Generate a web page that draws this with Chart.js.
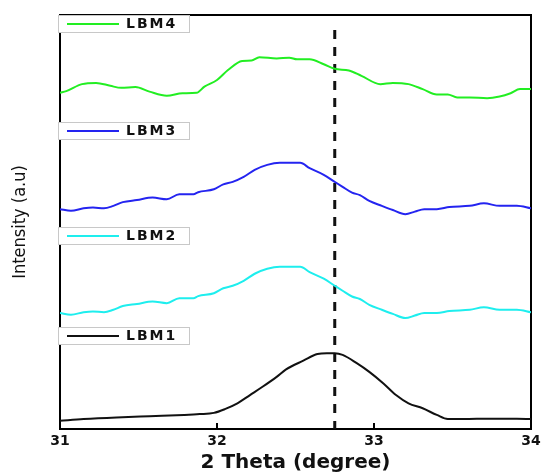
<!DOCTYPE html>
<html>
<head>
<meta charset="utf-8">
<script src="https://cdn.jsdelivr.net/npm/chart.js@4/dist/chart.umd.min.js"></script>
<style>
  html, body { margin: 0; padding: 0; background: #fff; }
  #wrap { width: 543px; height: 476px; position: relative; }
</style>
</head>
<body>
<div id="wrap"><canvas id="xrdChart"></canvas></div>
<script>
// XRD patterns (intensity in arbitrary units, stacked)
const lbm4Theta = [31.00, 31.04, 31.14, 31.23, 31.32, 31.39, 31.48, 31.57, 31.68, 31.78, 31.87, 31.92, 32.00, 32.07, 32.16, 32.22, 32.27, 32.38, 32.46, 32.51, 32.59, 32.68, 32.75, 32.84, 32.92, 33.04, 33.12, 33.22, 33.31, 33.40, 33.47, 33.53, 33.61, 33.72, 33.80, 33.87, 33.93, 34.00];
const lbm4Int   = [81.2, 81.6, 83.3, 83.6, 82.9, 82.4, 82.6, 81.5, 80.5, 81.1, 81.2, 82.7, 84.3, 86.7, 88.9, 89.0, 89.8, 89.5, 89.7, 89.3, 89.3, 88.1, 87.0, 86.6, 85.3, 83.3, 83.6, 83.3, 82.1, 80.8, 80.8, 80.1, 80.1, 79.9, 80.3, 81.1, 82.1, 82.1];

const lbm3Theta = [31.00, 31.07, 31.15, 31.21, 31.28, 31.34, 31.40, 31.49, 31.59, 31.68, 31.76, 31.85, 31.88, 31.98, 32.04, 32.10, 32.17, 32.24, 32.32, 32.40, 32.46, 32.53, 32.59, 32.68, 32.75, 32.80, 32.86, 32.91, 32.97, 33.05, 33.12, 33.20, 33.26, 33.32, 33.40, 33.48, 33.61, 33.70, 33.80, 33.91, 34.00];
const lbm3Int   = [53.1, 52.7, 53.3, 53.5, 53.3, 53.9, 54.8, 55.3, 55.9, 55.5, 56.7, 56.7, 57.2, 57.9, 59.1, 59.7, 60.9, 62.6, 63.8, 64.3, 64.3, 64.3, 63.0, 61.4, 59.7, 58.5, 57.1, 56.5, 55.1, 53.9, 52.9, 51.9, 52.5, 53.1, 53.1, 53.6, 53.9, 54.5, 53.9, 53.9, 53.3];

const lbm2Theta = [31.00, 31.07, 31.15, 31.21, 31.28, 31.34, 31.40, 31.49, 31.59, 31.68, 31.76, 31.85, 31.88, 31.98, 32.04, 32.10, 32.17, 32.24, 32.32, 32.40, 32.46, 32.53, 32.59, 32.68, 32.75, 32.80, 32.86, 32.91, 32.97, 33.05, 33.12, 33.20, 33.26, 33.32, 33.40, 33.48, 33.61, 33.70, 33.80, 33.91, 34.00];
const lbm2Int   = [28.0, 27.6, 28.2, 28.4, 28.2, 28.8, 29.7, 30.2, 30.8, 30.4, 31.6, 31.6, 32.1, 32.8, 34.0, 34.6, 35.8, 37.5, 38.7, 39.2, 39.2, 39.2, 37.9, 36.3, 34.6, 33.4, 32.0, 31.4, 30.0, 28.8, 27.8, 26.8, 27.4, 28.0, 28.0, 28.5, 28.8, 29.4, 28.8, 28.8, 28.2];

const lbm1Theta = [31.00, 31.15, 31.36, 31.57, 31.79, 31.89, 31.98, 32.05, 32.13, 32.21, 32.29, 32.38, 32.44, 32.55, 32.64, 32.70, 32.75, 32.80, 32.89, 32.97, 33.06, 33.14, 33.22, 33.31, 33.40, 33.47, 33.57, 33.74, 33.91, 34.00];
const lbm1Int   = [2.0, 2.4, 2.8, 3.1, 3.4, 3.6, 3.9, 4.8, 6.2, 8.2, 10.2, 12.6, 14.4, 16.5, 18.1, 18.3, 18.3, 17.9, 15.9, 13.8, 11.0, 8.2, 6.2, 5.0, 3.4, 2.4, 2.4, 2.5, 2.5, 2.4];

// reference peak position (dashed marker)
const peakTheta = [32.75, 32.75];
const peakInt   = [96.4, 0];

const xTicks = [31, 32, 33, 34];

function pts(xs, ys) {
    return xs.map((x, i) => ({ x: x, y: ys[i] }));
}

// plot frame + short inward ticks on the bottom axis
const framePlugin = {
    id: 'frame',
    beforeDatasetsDraw(chart) {
        const { ctx, chartArea: a } = chart;
        const xScale = chart.scales.x;
        ctx.save();
        ctx.strokeStyle = '#000';
        ctx.lineWidth = 2;
        ctx.strokeRect(a.left, a.top, a.right - a.left, a.bottom - a.top);
        ctx.beginPath();
        xTicks.forEach(v => {
            const px = Math.round(xScale.getPixelForValue(v));
            ctx.moveTo(px, a.bottom);
            ctx.lineTo(px, a.bottom - 6);
        });
        ctx.stroke();
        ctx.restore();
    }
};

// one small legend box per curve, sitting above each trace
const boxLegendPlugin = {
    id: 'boxLegend',
    afterDraw(chart, args, opts) {
        const { ctx } = chart;
        const yScale = chart.scales.y;
        const left = chart.chartArea.left - 2;
        ctx.save();
        opts.items.forEach(item => {
            const ds = chart.data.datasets[item.index];
            const top = Math.round(yScale.getPixelForValue(item.at)) + 0.5;
            ctx.fillStyle = '#fff';
            ctx.fillRect(left, top, 132, 17);
            ctx.strokeStyle = '#c8c8c8';
            ctx.lineWidth = 1;
            ctx.strokeRect(left + 0.5, top, 131, 17);
            ctx.strokeStyle = ds.borderColor;
            ctx.lineWidth = 2;
            ctx.beginPath();
            ctx.moveTo(left + 9, top + 8.5);
            ctx.lineTo(left + 61, top + 8.5);
            ctx.stroke();
            ctx.fillStyle = '#111';
            ctx.font = 'bold 14px "DejaVu Sans", sans-serif';
            ctx.letterSpacing = '2px';
            ctx.textBaseline = 'middle';
            ctx.fillText(ds.label, left + 68, top + 9);
        });
        ctx.restore();
    }
};

const ctx = document.getElementById('xrdChart').getContext('2d');
new Chart(ctx, {
    type: 'line',
    data: {
        datasets: [
            { label: 'LBM4', data: pts(lbm4Theta, lbm4Int), borderColor: '#22ee22', borderWidth: 2, pointRadius: 0, cubicInterpolationMode: 'monotone' },
            { label: 'LBM3', data: pts(lbm3Theta, lbm3Int), borderColor: '#2424f0', borderWidth: 2, pointRadius: 0, cubicInterpolationMode: 'monotone' },
            { label: 'LBM2', data: pts(lbm2Theta, lbm2Int), borderColor: '#1eeeee', borderWidth: 2, pointRadius: 0, cubicInterpolationMode: 'monotone' },
            { label: 'LBM1', data: pts(lbm1Theta, lbm1Int), borderColor: '#111111', borderWidth: 2, pointRadius: 0, cubicInterpolationMode: 'monotone' },
            { label: 'peak', data: pts(peakTheta, peakInt), borderColor: '#111111', borderWidth: 3, borderDash: [9, 8], pointRadius: 0 }
        ]
    },
    options: {
        responsive: true,
        maintainAspectRatio: false,
        animation: false,
        layout: { padding: { left: 0, right: 12, top: 15, bottom: 0 } },
        plugins: {
            legend: { display: false },
            tooltip: { enabled: false },
            boxLegend: {
                items: [
                    { index: 0, at: 100 },
                    { index: 1, at: 74.2 },
                    { index: 2, at: 48.8 },
                    { index: 3, at: 24.6 }
                ]
            }
        },
        scales: {
            x: {
                type: 'linear',
                min: 31,
                max: 34,
                afterBuildTicks: scale => { scale.ticks = xTicks.map(v => ({ value: v })); },
                afterFit: scale => {
                    scale.height = 47;
                    scale.paddingLeft = 0;
                    scale.paddingRight = 0;
                },
                border: { display: false },
                grid: { display: false },
                ticks: {
                    padding: -4,
                    color: '#111',
                    font: { family: '"DejaVu Sans", sans-serif', size: 14, weight: 'bold' },
                    maxRotation: 0
                },
                title: {
                    display: true,
                    text: '2 Theta (degree)',
                    color: '#111',
                    padding: { top: 0, bottom: 1 },
                    font: { family: '"DejaVu Sans", sans-serif', size: 20, weight: 'bold' }
                }
            },
            y: {
                min: 0,
                max: 100,
                afterFit: scale => { scale.width = 60; },
                border: { display: false },
                grid: { display: false },
                ticks: { display: false },
                title: {
                    display: true,
                    text: 'Intensity (a.u)',
                    color: '#111',
                    padding: { top: 10, bottom: 0 },
                    font: { family: '"Liberation Sans Narrow", "DejaVu Sans Condensed", sans-serif', size: 18 }
                }
            }
        }
    },
    plugins: [framePlugin, boxLegendPlugin]
});
</script>
</body>
</html>
